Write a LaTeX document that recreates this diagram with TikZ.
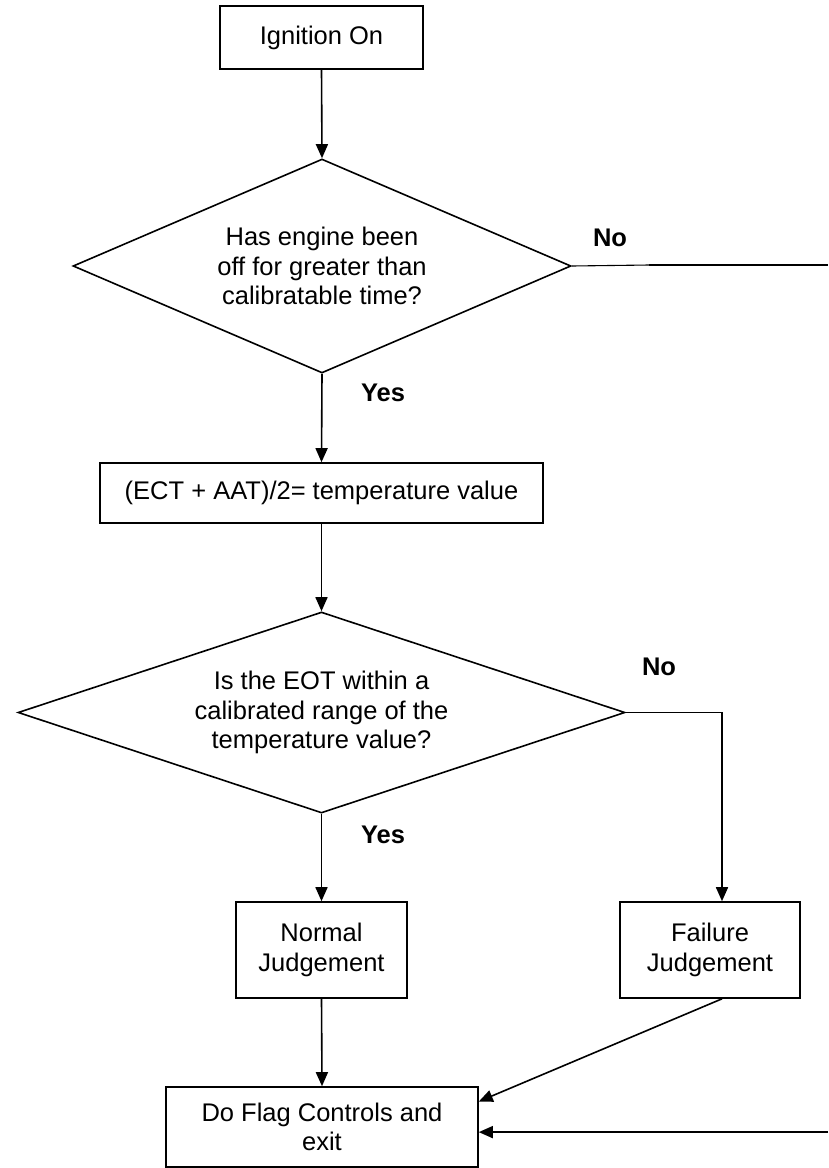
\documentclass[tikz,border=0pt]{standalone}
\usepackage{fontspec}
\setmainfont{Liberation Sans}
\usetikzlibrary{shapes.geometric,arrows.meta,calc}
\begin{document}
\begin{tikzpicture}[x=1pt,y=-1pt,
  every node/.style={font=\fontsize{25.5}{29.5}\selectfont},
  stepbox/.style={draw,line width=1.6pt,rectangle,inner sep=0pt,align=center},
  decision/.style={draw,line width=1.6pt,diamond,inner sep=0pt,align=center},
  conn/.style={line width=1.6pt},
  arr/.style={conn,-{Triangle[length=14pt,width=12pt]}},
  lab/.style={font=\fontsize{25.5}{29.5}\selectfont\bfseries}]
\useasboundingbox (0,0) rectangle (828,1168);
\node[stepbox,minimum width=203pt,minimum height=63pt] (ign) at (321.5,37.5) {Ignition On};
\node[decision,aspect=2.33,minimum width=498pt,minimum height=214pt] (d1) at (322,266) {Has engine been\\off for greater than\\calibratable time?};
\node[stepbox,minimum width=443pt,minimum height=60pt] (box2) at (321.5,493) {(ECT + AAT)/2= temperature value};
\node[decision,aspect=3.02,minimum width=607pt,minimum height=201pt] (d2) at (321.5,712.5) {Is the EOT within a\\calibrated range of the\\temperature value?};
\node[stepbox,minimum width=171pt,minimum height=96pt] (norm) at (321.5,950) {Normal\\Judgement};
\node[stepbox,minimum width=180pt,minimum height=96pt] (fail) at (710,950) {Failure\\Judgement};
\node[stepbox,minimum width=312pt,minimum height=80pt] (flag) at (322,1127) {Do Flag Controls and\\exit};
\node[lab] (no1) at (610,238) {No};
\node[lab] (no2) at (659,667) {No};
\node[lab] (yes1) at (383,393) {Yes};
\node[lab] (yes2) at (383,835) {Yes};
\coordinate (e1) at (649,265);
\coordinate (e1r) at (828,265);
\coordinate (b2) at (722,712.5);
\coordinate (f1) at ($(flag.north east)!0.1875!(flag.south east)$);
\coordinate (h2) at ($(flag.north east)!0.5625!(flag.south east)$);
\coordinate (r2) at (h2 -| e1r);
\draw[arr] (ign.south) -- (d1.north);
\draw[arr] (d1.south) -- (box2.north);
\draw[arr] (box2.south) -- (d2.north);
\draw[arr] (d2.south) -- (norm.north);
\draw[arr] (norm.south) -- (flag.north);
\draw[line width=1.1pt] (d1.east) -- (e1);
\draw[line width=2.2pt] (e1) -- (e1r);
\draw[arr] (d2.east) -- (b2) -- (b2 |- fail.north);
\draw[arr] (fail.south -| b2) -- (f1);
\draw[arr] (r2) -- (h2);
\end{tikzpicture}
\end{document}
